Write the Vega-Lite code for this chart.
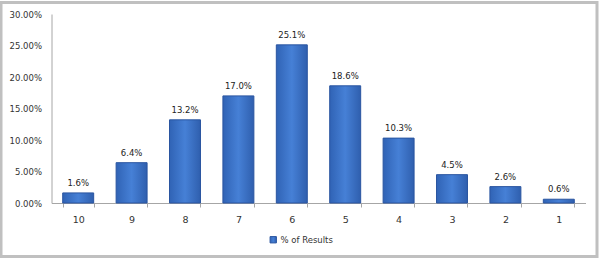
{
  "$schema": "https://vega.github.io/schema/vega-lite/v6.json",
  "width": 596,
  "height": 254,
  "autosize": {"type": "none"},
  "padding": {"left": 1, "top": 2.5, "right": 3, "bottom": 4.5},
  "background": "white",
  "config": {
    "view": {"stroke": "#c0c0c0", "strokeWidth": 3},
    "font": "DejaVu Sans"
  },
  "data": {
    "values": [
      {"rating": "10", "pct": 0.016, "series": "% of Results"},
      {"rating": "9", "pct": 0.064, "series": "% of Results"},
      {"rating": "8", "pct": 0.132, "series": "% of Results"},
      {"rating": "7", "pct": 0.170, "series": "% of Results"},
      {"rating": "6", "pct": 0.251, "series": "% of Results"},
      {"rating": "5", "pct": 0.186, "series": "% of Results"},
      {"rating": "4", "pct": 0.103, "series": "% of Results"},
      {"rating": "3", "pct": 0.045, "series": "% of Results"},
      {"rating": "2", "pct": 0.026, "series": "% of Results"},
      {"rating": "1", "pct": 0.006, "series": "% of Results"}
    ]
  },
  "encoding": {
    "x": {
      "field": "rating",
      "type": "ordinal",
      "sort": null,
      "scale": {"range": [50.5, 584.5], "paddingInner": 0.42, "paddingOuter": 0.21},
      "axis": {
        "title": null,
        "labelAngle": 0,
        "offset": -53.5,
        "domainColor": "#a6a6a6",
        "tickColor": "#a6a6a6",
        "tickSize": 4,
        "tickBand": "extent",
        "labelPadding": 7,
        "labelFontSize": 9.5,
        "labelColor": "#333333",
        "labelFont": "DejaVu Sans"
      }
    },
    "y": {
      "field": "pct",
      "type": "quantitative",
      "scale": {"domain": [0, 0.3], "range": [200.5, 11.5], "nice": false, "zero": true},
      "axis": {
        "title": null,
        "format": ".2%",
        "values": [0, 0.05, 0.1, 0.15, 0.2, 0.25, 0.3],
        "offset": -50.5,
        "ticks": false,
        "grid": false,
        "labelPadding": 10,
        "domainColor": "#a6a6a6",
        "labelFontSize": 8.5,
        "labelColor": "#333333",
        "labelFont": "DejaVu Sans"
      }
    }
  },
  "layer": [
    {
      "mark": {
        "type": "bar",
        "fill": {
          "gradient": "linear",
          "x1": 0, "x2": 1, "y1": 0, "y2": 0,
          "stops": [
            {"offset": 0, "color": "#3063b5"},
            {"offset": 0.5, "color": "#4680d6"},
            {"offset": 1, "color": "#2f5fae"}
          ]
        },
        "fillOpacity": 1,
        "strokeWidth": 1
      },
      "encoding": {
        "stroke": {
          "field": "series",
          "type": "nominal",
          "scale": {"range": ["#2a55a0"]},
          "legend": {
            "title": null,
            "orient": "none",
            "legendX": 268,
            "legendY": 233,
            "symbolType": "square",
            "symbolSize": 40,
            "symbolFillColor": "#4079cf",
            "symbolStrokeWidth": 1,
            "symbolOpacity": 1,
            "labelFontSize": 8.5,
            "labelColor": "#333333",
            "labelFont": "DejaVu Sans",
            "labelOffset": 3
          }
        }
      }
    },
    {
      "mark": {"type": "text", "baseline": "bottom", "dy": -5, "fontSize": 8.5, "color": "#222222", "font": "DejaVu Sans"},
      "encoding": {
        "text": {"field": "pct", "type": "quantitative", "format": ".1%"}
      }
    }
  ]
}
